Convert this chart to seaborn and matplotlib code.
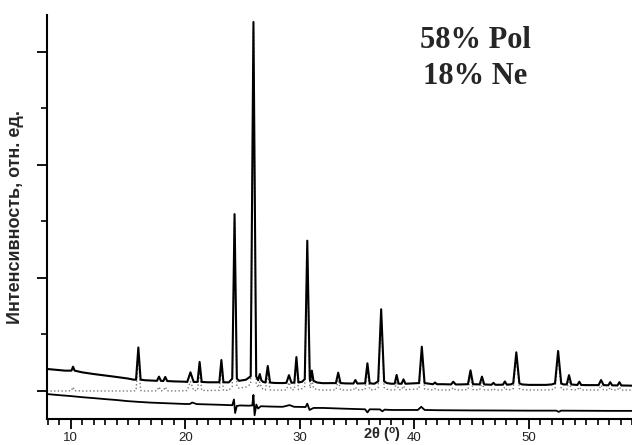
import numpy as np
import pandas as pd
import matplotlib
matplotlib.use("Agg")
import matplotlib.pyplot as plt
from matplotlib.ticker import MultipleLocator, NullFormatter
import seaborn as sns

# peak table: position (deg), top, local base, half-width at foot
peak_pos = [10.2, 15.9, 17.7, 18.25, 20.45, 21.25, 23.15, 24.3, 25.95, 26.5,
            27.2, 29.05, 29.7, 30.65, 31.05, 33.35, 34.85, 35.9, 37.1, 38.45,
            39.05, 40.65, 41.8, 43.4, 44.9, 45.9, 46.9, 47.9, 48.9, 52.55,
            53.5, 54.4, 56.3, 57.1, 57.9]
peak_top = [215, 385, 127, 124, 165, 257, 274, 1565, 3265, 150,
            221, 140, 300, 1330, 180, 162, 97, 245, 723, 142,
            103, 392, 75, 82, 183, 127, 72, 84, 342, 354,
            140, 82, 97, 78, 78]
peak_base = [180, 100, 90, 88, 80, 80, 77, 110, 130, 95,
             75, 72, 75, 105, 90, 70, 66, 68, 85, 65,
             64, 70, 60, 58, 60, 58, 55, 56, 68, 68,
             58, 53, 52, 50, 49]
peak_hw = [0.14, 0.2, 0.17, 0.17, 0.28, 0.18, 0.18, 0.2, 0.24, 0.14,
           0.2, 0.22, 0.18, 0.22, 0.14, 0.2, 0.17, 0.2, 0.26, 0.17,
           0.17, 0.24, 0.17, 0.2, 0.22, 0.2, 0.17, 0.17, 0.27, 0.27,
           0.2, 0.17, 0.22, 0.17, 0.17]

# calculated profile (dotted): peak tops and foot levels
calc_top = [35, 288, 37, 36, 85, 180, 200, 1495, 3200, 80,
            155, 75, 235, 1265, 115, 100, 35, 185, 665, 85,
            45, 335, 20, 30, 130, 75, 22, 35, 295, 305,
            92, 35, 52, 32, 35]
calc_base = [2, 4, 2, 2, 4, 5, 6, 40, 60, 30,
             10, 10, 12, 40, 25, 10, 9, 12, 30, 11,
             11, 18, 9, 9, 12, 10, 9, 9, 20, 20,
             12, 9, 9, 8, 8]

# background of the observed and calculated curves between peaks
bg_x = [7.9, 9.5, 11.0, 12.0, 13.0, 14.0, 15.0, 15.5, 16.5, 17.2, 19.0, 20.0,
        22.0, 23.8, 24.7, 25.3, 26.8, 27.8, 28.5, 30.2, 31.5, 32.0, 34.0,
        36.5, 37.6, 38.0, 42.5, 44.0, 47.4, 48.4, 49.4, 50.0, 51.5, 52.0,
        53.0, 55.0, 59.0]
bg_obs = [195, 180, 165, 150, 137, 124, 110, 100, 95, 92, 85, 82,
          77, 76, 90, 100, 80, 71, 70, 82, 75, 69, 67,
          64, 70, 64, 60, 58, 55, 58, 58, 54, 54, 58,
          58, 52, 47]
bg_calc = [0, 0, 0, 0, 0, 0, 0, 0, 0, 0, 0, 2,
           4, 6, 25, 35, 15, 8, 8, 20, 12, 8, 8,
           9, 15, 9, 9, 9, 9, 12, 12, 9, 9, 12,
           12, 9, 8]

# difference curve
diff_x = [7.9, 9, 10, 11, 12, 13, 14, 15, 16, 17, 18, 19, 20, 20.4, 20.6, 21,
          22, 23, 24.1, 24.25, 24.35, 24.5, 24.8, 25.5, 25.85, 25.95, 26.05,
          26.2, 26.35, 26.6, 27.5, 28.5, 29.1, 29.5, 30.5, 30.65, 30.85, 31.2,
          32, 34, 35.7, 35.9, 36.1, 37.0, 37.2, 37.4, 38, 40.3, 40.6, 40.9,
          42, 45, 48, 50, 52.4, 52.6, 52.8, 55, 57, 59]
diff_y = [-27, -37, -45, -55, -63, -72, -80, -90, -97, -103, -107, -111, -115,
          -115, -102, -116, -119, -122, -126, -75, -195, -132, -128, -130,
          -128, -35, -215, -120, -155, -135, -138, -140, -125, -140, -142,
          -112, -168, -150, -150, -157, -162, -190, -162, -163, -180, -165,
          -168, -168, -140, -168, -170, -172, -173, -174, -174, -185, -174,
          -175, -176, -176]


def profile(base_x, base_y, top, foot):
    xs = list(base_x)
    ys = list(base_y)
    for p, t, b, w in zip(peak_pos, top, foot, peak_hw):
        xs += [p - w, p, p + w]
        ys += [b, t, b]
    return pd.DataFrame({"x": xs, "y": ys})


obs = profile(bg_x, bg_obs, peak_top, peak_base)
calc = profile(bg_x, bg_calc, calc_top, calc_base)
diff = pd.DataFrame({"x": diff_x, "y": diff_y})

sns.set_style("ticks")
plt.rcParams["font.family"] = ["Liberation Sans", "DejaVu Sans"]
plt.rcParams["mathtext.default"] = "regular"

fig = plt.figure(figsize=(6.32, 4.45), dpi=100)
ax = fig.add_axes([0.0739, 0.0584, 0.9261, 0.9079])

sns.lineplot(data=calc, x="x", y="y", estimator=None, sort=True, ax=ax,
             color="#7a7a7a", lw=1.0, linestyle=":")
sns.lineplot(data=obs, x="x", y="y", estimator=None, sort=True, ax=ax,
             color="black", lw=1.5)
sns.lineplot(data=diff, x="x", y="y", estimator=None, sort=True, ax=ax,
             color="black", lw=1.3)

ax.set_xlim(7.9, 59.0)
ax.set_ylim(-248, 3327)
ax.xaxis.set_major_locator(MultipleLocator(10))
ax.xaxis.set_minor_locator(MultipleLocator(1))
ax.yaxis.set_major_locator(MultipleLocator(1000))
ax.yaxis.set_minor_locator(MultipleLocator(500))
ax.yaxis.set_major_formatter(NullFormatter())
ax.tick_params(axis="both", which="major", direction="out", length=7, width=1.3,
               color="black", labelsize=9.5, labelcolor="#222222", pad=2)
ax.tick_params(axis="both", which="minor", direction="out", length=4, width=1.2,
               color="black")
for s in ["top", "right"]:
    ax.spines[s].set_visible(False)
for s in ["left", "bottom"]:
    ax.spines[s].set_linewidth(1.5)
    ax.spines[s].set_color("black")

ax.set_xlabel("2θ ($^{o}$)", fontsize=10.5, fontweight="bold")
ax.xaxis.set_label_coords(0.572, -0.040)
ax.xaxis.label.set_va("center")
ax.set_ylabel("Интенсивность, отн. ед.", fontsize=13, fontweight="bold")
ax.yaxis.set_label_coords(-0.054, 0.5)
ax.yaxis.label.set_va("center")

ax.text(0.732, 0.893, "58% Pol\n18% Ne", transform=ax.transAxes, ha="center",
        va="center", multialignment="center", fontsize=22, fontweight="bold",
        family=["Liberation Serif", "DejaVu Serif"], linespacing=1.3)

fig.savefig("out.png", dpi=100)
